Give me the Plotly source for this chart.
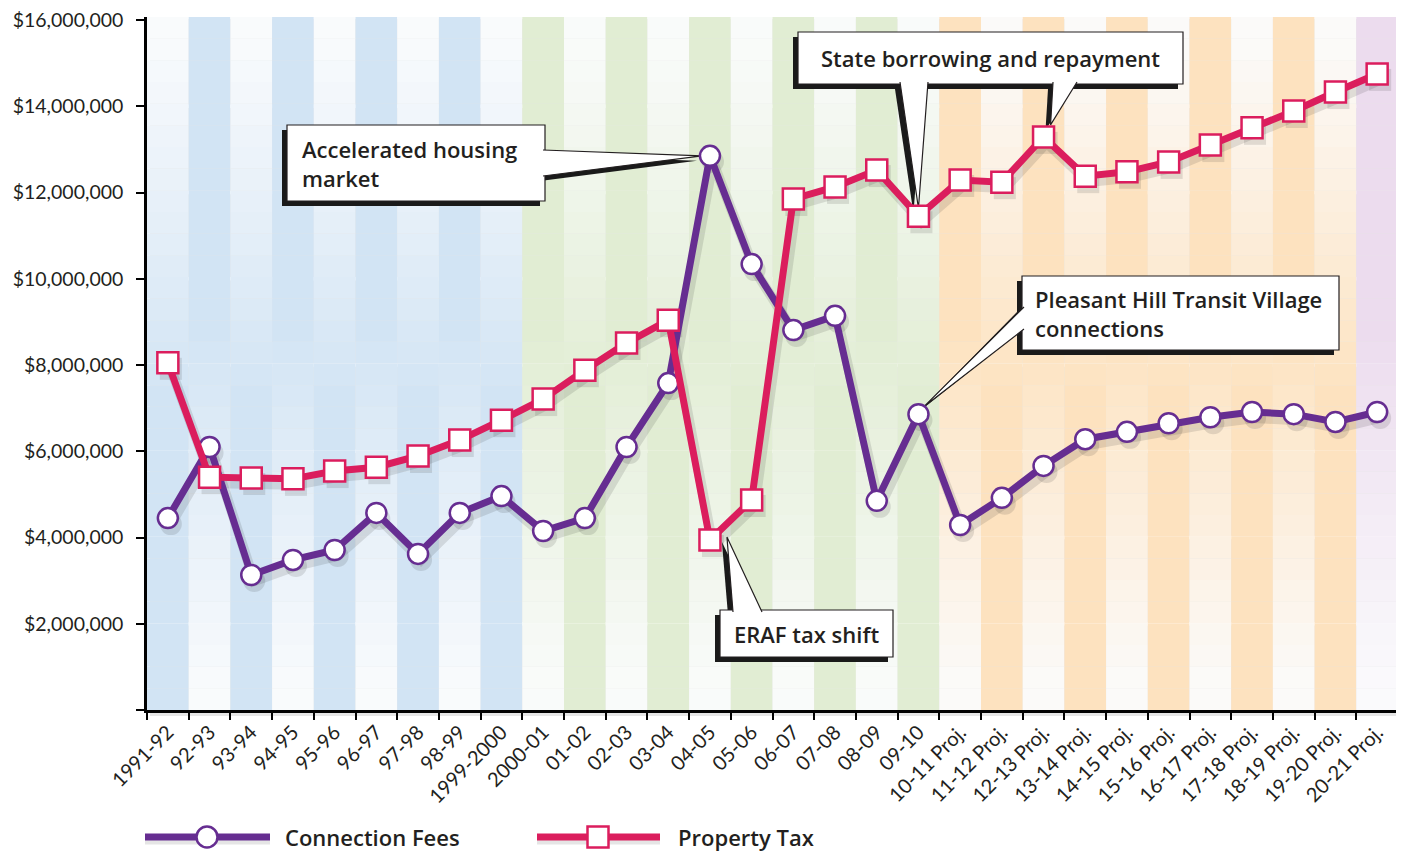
import plotly.graph_objects as go

# ---------------- data ----------------
categories = ["1991-92", "92-93", "93-94", "94-95", "95-96", "96-97", "97-98", "98-99",
              "1999-2000", "2000-01", "01-02", "02-03", "03-04", "04-05", "05-06", "06-07",
              "07-08", "08-09", "09-10", "10-11 Proj.", "11-12 Proj.", "12-13 Proj.",
              "13-14 Proj.", "14-15 Proj.", "15-16 Proj.", "16-17 Proj.", "17-18 Proj.",
              "18-19 Proj.", "19-20 Proj.", "20-21 Proj."]
connection_fees = [4.45e6, 6.10e6, 3.13e6, 3.48e6, 3.71e6, 4.57e6, 3.62e6, 4.57e6, 4.96e6,
                   4.15e6, 4.45e6, 6.10e6, 7.58e6, 12.85e6, 10.34e6, 8.81e6, 9.14e6, 4.85e6,
                   6.86e6, 4.29e6, 4.92e6, 5.66e6, 6.28e6, 6.45e6, 6.65e6, 6.79e6, 6.91e6,
                   6.86e6, 6.68e6, 6.91e6]
property_tax = [8.05e6, 5.40e6, 5.38e6, 5.36e6, 5.54e6, 5.63e6, 5.89e6, 6.26e6, 6.72e6,
                7.21e6, 7.88e6, 8.51e6, 9.04e6, 3.94e6, 4.87e6, 11.85e6, 12.13e6, 12.52e6,
                11.45e6, 12.29e6, 12.24e6, 13.29e6, 12.38e6, 12.48e6, 12.71e6, 13.10e6,
                13.50e6, 13.89e6, 14.33e6, 14.75e6]
y_tick_values = [0, 2e6, 4e6, 6e6, 8e6, 10e6, 12e6, 14e6, 16e6]
series_names = ["Connection Fees", "Property Tax"]

# ---------------- style ----------------
PURPLE = "#662d91"
PINK = "#db1d5d"
TEXT = "#231f20"
FONT = "Lato"
BOLD_FONT = "Open Sans"
W, H = 1404, 853
OFF = 8                                   # page body margin
L, R, T, B = 147, 1398, 17, 710          # plot area in page pixels
X_RANGE = [-0.5, len(categories) - 0.5]
Y_RANGE = [0, 16.07e6]

band_base = {"blue": (210, 228, 244), "green": (225, 237, 211),
             "orange": (253, 226, 191), "purple": (236, 220, 238)}
band_region = ["blue"] * 9 + ["green"] * 10 + ["orange"] * 10 + ["purple"]

x_idx = list(range(len(categories)))


def dx(px):
    return X_RANGE[0] + (px - L) / (R - L) * (X_RANGE[1] - X_RANGE[0])


def dy(py):
    return Y_RANGE[0] + (B - py) / (B - T) * (Y_RANGE[1] - Y_RANGE[0])


XU = (X_RANGE[1] - X_RANGE[0]) / (R - L)   # data units per px
YU = (Y_RANGE[1] - Y_RANGE[0]) / (B - T)


def px_x(px):
    return (px - L) / (R - L)


def px_y(py):
    return (B - py) / (B - T)


def mix(rgb, t):
    w = (251, 252, 253)
    c = [round(w[k] + (rgb[k] - w[k]) * t) for k in range(3)]
    return f"rgb({c[0]},{c[1]},{c[2]})"


shapes = []
# plot-area drop shadow
shapes.append(dict(type="rect", xref="paper", yref="paper", layer="below",
                   x0=px_x(L + 3), x1=px_x(R + 5), y0=px_y(B + 6), y1=px_y(T + 2),
                   fillcolor="rgba(0,0,0,0.10)", line=dict(width=0)))

# gradient bands
N = 32
for i, reg in enumerate(band_region):
    base = band_base[reg]
    light = (i % 2 == 0)
    for k in range(N):
        y0 = Y_RANGE[0] + (Y_RANGE[1] - Y_RANGE[0]) * k / N
        y1 = Y_RANGE[0] + (Y_RANGE[1] - Y_RANGE[0]) * (k + 1) / N
        frac_top = 1 - (k + 0.5) / N
        f = frac_top if light else 1 - frac_top
        t = max(0.06, min(1.0, f / 0.55))
        shapes.append(dict(type="rect", xref="x", yref="y", layer="below",
                           x0=i - 0.5, x1=i + 0.5, y0=y0, y1=y1,
                           fillcolor=mix(base, t), line=dict(width=0)))

# white gridlines
for v in y_tick_values[1:-1]:
    shapes.append(dict(type="line", xref="paper", yref="y", layer="below",
                       x0=0, x1=1, y0=v, y1=v, line=dict(color="white", width=3.5)))

# ---------------- callouts ----------------
SH = (-5, 5)  # shadow offset px


def P(pt):
    return f"{pt[0]},{pt[1]}"


callouts = [
    dict(box=(287, 125, 545, 201),
         wedges=[((545, 150), (545, 176), (13, connection_fees[13]), (-8, 0), (-2, 0))],
         text="Accelerated housing<br>market", tx=300, anchor="left"),
    dict(box=(798, 32, 1183, 84),
         wedges=[((900, 84), (928, 84), (18, property_tax[18]), (0, -8), (0, -2)),
                 ((1053, 84), (1077, 84), (21, property_tax[21]), (7, -12), (0, -2))],
         text="State borrowing and repayment", tx=990, anchor="center"),
    dict(box=(720, 610, 893, 657),
         wedges=[((733, 610), (762, 610), (13, property_tax[13]), (17, -3), (0, 2))],
         text="ERAF tax shift", tx=806, anchor="center"),
    dict(box=(1022, 276, 1339, 350),
         wedges=[((1022, 307), (1022, 329), (18, connection_fees[18]), (6, -8), (2, 0))],
         text="Pleasant Hill Transit Village<br>connections", tx=1033, anchor="left"),
]

annotations = []
for c in callouts:
    x0, y0, x1, y1 = c["box"]
    # shadow
    shapes.append(dict(type="rect", xref="x", yref="y", layer="between",
                       x0=dx(x0 + SH[0]), x1=dx(x1 + SH[0]), y0=dy(y1 + SH[1]), y1=dy(y0 + SH[1]),
                       fillcolor="#1a1a1a", line=dict(width=0)))
    for b1, b2, (ti, tv), toff, inw in c["wedges"]:
        tip = (ti + toff[0] * XU + SH[0] * XU, tv - toff[1] * YU - SH[1] * YU)
        p1 = (dx(b1[0] + SH[0]), dy(b1[1] + SH[1]))
        p2 = (dx(b2[0] + SH[0]), dy(b2[1] + SH[1]))
        shapes.append(dict(type="path", xref="x", yref="y", layer="between",
                           path=f"M {P(p1)} L {P(tip)} L {P(p2)} Z",
                           fillcolor="#1a1a1a", line=dict(width=0)))
    # white box
    shapes.append(dict(type="rect", xref="x", yref="y", layer="between",
                       x0=dx(x0), x1=dx(x1), y0=dy(y1), y1=dy(y0),
                       fillcolor="white", line=dict(color="#231f20", width=1.2)))
    for b1, b2, (ti, tv), toff, inw in c["wedges"]:
        tip = (ti + toff[0] * XU, tv - toff[1] * YU)
        p1 = (dx(b1[0] + inw[0]), dy(b1[1] + inw[1]))
        p2 = (dx(b2[0] + inw[0]), dy(b2[1] + inw[1]))
        shapes.append(dict(type="path", xref="x", yref="y", layer="between",
                           path=f"M {P(p1)} L {P(tip)} L {P(p2)}",
                           fillcolor="white", line=dict(color="#231f20", width=1.2)))
    annotations.append(dict(xref="x", yref="y", x=dx(c["tx"]), y=dy((y0 + y1) / 2),
                            text=c["text"], showarrow=False,
                            xanchor=c["anchor"], yanchor="middle", align="left",
                            font=dict(family=BOLD_FONT, size=22, color=TEXT, weight=600)))

# ---------------- legend (manual) ----------------
LEG_Y = 837
legend_items = [
    dict(name=series_names[0], color=PURPLE, symbol="circle", lx0=145, lx1=270, mx=207, tx=283),
    dict(name=series_names[1], color=PINK, symbol="rect", lx0=537, lx1=660, mx=598, tx=676),
]
for it in legend_items:
    shapes.append(dict(type="line", xref="paper", yref="paper", layer="above",
                       x0=px_x(it["lx0"]), x1=px_x(it["lx1"]), y0=px_y(LEG_Y + 3), y1=px_y(LEG_Y + 3),
                       line=dict(color="rgba(40,40,40,0.12)", width=9)))
    shapes.append(dict(type="line", xref="paper", yref="paper", layer="above",
                       x0=px_x(it["lx0"]), x1=px_x(it["lx1"]), y0=px_y(LEG_Y), y1=px_y(LEG_Y),
                       line=dict(color=it["color"], width=7)))
    s = 10.5
    shapes.append(dict(type=it["symbol"], xref="paper", yref="paper", layer="above",
                       xsizemode="pixel", ysizemode="pixel",
                       xanchor=px_x(it["mx"]), yanchor=px_y(LEG_Y),
                       x0=-s, x1=s, y0=-s, y1=s,
                       fillcolor="white", line=dict(color=it["color"], width=2.5)))
    annotations.append(dict(xref="paper", yref="paper", x=px_x(it["tx"]), y=px_y(LEG_Y),
                            text=it["name"], showarrow=False,
                            xanchor="left", yanchor="middle",
                            font=dict(family=BOLD_FONT, size=22, color=TEXT, weight=600)))

# ---------------- traces ----------------
fig = go.Figure()
sx, sy = 3 * XU, -6 * YU
for vals, sym in ((connection_fees, "circle"), (property_tax, "square")):
    fig.add_trace(go.Scatter(
        x=[v + sx for v in x_idx], y=[v + sy for v in vals], mode="lines+markers",
        line=dict(color="rgba(40,40,40,0.13)", width=10),
        marker=dict(symbol=sym, size=22, color="rgba(40,40,40,0.13)"),
        hoverinfo="skip", showlegend=False))

fig.add_trace(go.Scatter(
    x=x_idx, y=connection_fees, mode="lines+markers", name=series_names[0],
    line=dict(color=PURPLE, width=7),
    marker=dict(symbol="circle", size=20, color="white", line=dict(color=PURPLE, width=2.5)),
    showlegend=False))
fig.add_trace(go.Scatter(
    x=x_idx, y=property_tax, mode="lines+markers", name=series_names[1],
    line=dict(color=PINK, width=7),
    marker=dict(symbol="square", size=21, color="white", line=dict(color=PINK, width=2.5)),
    showlegend=False))

fig.update_layout(
    width=W - OFF, height=H - OFF,
    margin=dict(l=L - OFF, r=W - R, t=T - OFF, b=H - B, pad=0, autoexpand=False),
    paper_bgcolor="white", plot_bgcolor="white",
    showlegend=False,
    font=dict(family=FONT, color=TEXT),
    shapes=shapes, annotations=annotations,
)
fig.update_xaxes(
    range=X_RANGE, tickmode="array", tickvals=x_idx, ticktext=categories,
    tickangle=-45, ticks="", showgrid=False, zeroline=False, automargin=False,
    showline=True, linecolor="black", linewidth=2.5,
    tickfont=dict(family=FONT, size=20, color=TEXT),
    ticklabeloverflow="allow",
    minor=dict(tickmode="array", tickvals=[i - 0.5 for i in range(len(categories) + 1)],
               ticks="outside", ticklen=7, tickwidth=2, tickcolor="black", showgrid=False),
)
fig.update_yaxes(
    range=Y_RANGE, tickmode="array", tickvals=y_tick_values,
    ticktext=[f"${v:,.0f}" if v else "" for v in y_tick_values],
    ticks="outside", ticklen=8, tickwidth=2, tickcolor="black", automargin=False,
    showgrid=False, zeroline=False, showline=True, linecolor="black", linewidth=2.5,
    tickfont=dict(family=FONT, size=19.5, color=TEXT),
    ticklabeloverflow="allow", ticklabelstandoff=9,
)

fig.write_html("out.html")
